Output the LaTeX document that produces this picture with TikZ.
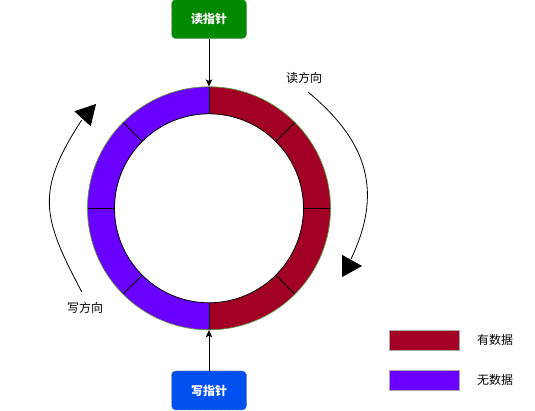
\documentclass[tikz,border=0pt]{standalone}
\usepackage{fontspec}
\setmainfont{Noto Sans CJK SC}
\usetikzlibrary{positioning}
\usetikzlibrary{arrows.meta}
\definecolor{fullred}{HTML}{A20025}
\definecolor{emptyviolet}{HTML}{6A00FF}
\definecolor{readgreen}{HTML}{008A00}
\definecolor{writeblue}{HTML}{0050EF}
\definecolor{ringedge}{HTML}{5E9A3C}

\begin{document}
\begin{tikzpicture}[>={Stealth[length=7pt,width=6.5pt,inset=1.5pt]},x=1pt,y=1pt,line width=0.8pt,
			ptr/.style={draw=white!55!black,
				densely dotted,
				line width=0.6pt,
				rectangle,
				rounded corners=4pt,
				minimum width=75pt,
				minimum height=39pt,
				text=white,
				font=\fontsize{12}{14}\selectfont\bfseries,
				align=center},
			legbox/.style={draw=black!35, line width=0.6pt, rectangle, minimum width=70pt, minimum height=20pt},
			lbl/.style={font=\fontsize{12}{14}\selectfont},
			bigtip/.style={-{Triangle[length=20pt,width=22pt]}}]
			\useasboundingbox (0,0) rectangle (535,411);
			\node[circle, minimum size=243pt, inner sep=0pt] (ring) at (209,202.7) {};
			% buffer slots
			\foreach \a/\c in {0/fullred,45/fullred,90/emptyviolet,135/emptyviolet,180/emptyviolet,225/emptyviolet,270/fullred,315/fullred}
				\fill[\c] ([shift={(\a:121.5)}]ring.center) arc[start angle=\a, end angle=\a+45, radius=121.5]
					-- ([shift={(\a+45:94.5)}]ring.center) arc[start angle=\a+45, end angle=\a, radius=94.5] -- cycle;
			\foreach \a in {0,45,...,315}
				\draw ([shift={(\a:94.5)}]ring.center) -- ([shift={(\a:121.5)}]ring.center);
			\draw (ring.center) circle[radius=94.5];
			\draw[ringedge, line width=0.7pt] (ring.center) circle[radius=121.5];
			% pointers
			\node[ptr, fill=readgreen, above=47.5pt of ring] (rdptr) {读指针};
			\node[ptr, fill=writeblue, below=40.5pt of ring] (wrptr) {写指针};
			\draw[->] (rdptr) -- (ring.north);
			\draw[->] (wrptr) -- (ring.south);
			% directions
			\node[lbl] (rddir) at (304,333) {读方向};
			\node[lbl] (wrdir) at (85,103) {写方向};
			\coordinate (rdstart) at (308,319);
			\coordinate (rdend) at (351,152);
			\coordinate (rdbase) at (342,145);
			\coordinate (rdtip) at (362,145);
			\draw (rdstart) .. controls (362,274) and (386,225) .. (rdend);
			\draw[bigtip] (rdbase) -- (rdtip);
			\coordinate (wrstart) at (81.7,119.3);
			\coordinate (wrend) at (81.7,291);
			\coordinate (wrbase) at (82.9,292.7);
			\coordinate (wrtip) at (96,307);
			\draw (wrstart) .. controls (41.8,194.4) and (35.4,219.7) .. (wrend);
			\draw[bigtip] (wrbase) -- (wrtip);
			% legend
			\node[legbox, fill=fullred] (legfull) at (424,71) {};
			\node[legbox, fill=emptyviolet] (legempty) at (424,31) {};
			\node[lbl, right=14pt of legfull] (legfulltxt) {有数据};
			\node[lbl, right=14pt of legempty] (legemptytxt) {无数据};
		\end{tikzpicture}
\end{document}
